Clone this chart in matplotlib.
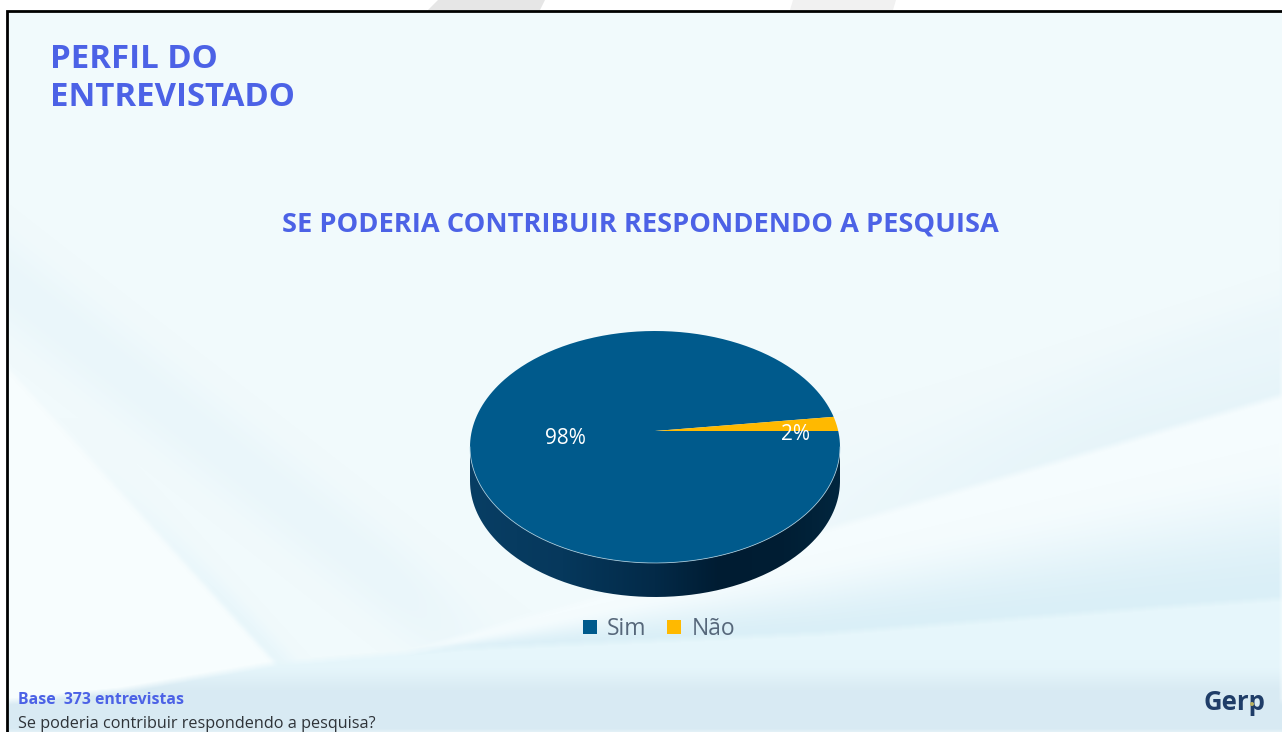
import numpy as np
import matplotlib
matplotlib.use("Agg")
import matplotlib.pyplot as plt
from matplotlib.patches import Rectangle, Polygon, Circle
from matplotlib.path import Path

# ---- data ----
categories = ["Sim", "Não"]
values = [98, 2]
colors = ["#005A8C", "#FFB900"]
page_title = ["PERFIL DO", "ENTREVISTADO"]
chart_title = "SE PODERIA CONTRIBUIR RESPONDENDO A PESQUISA"
base_text = "Base  373 entrevistas"
question_text = "Se poderia contribuir respondendo a pesquisa?"

W, H = 1282, 732
FONT = "Open Sans"
BLUE = "#4C62E6"

fig = plt.figure(figsize=(W / 100, H / 100), dpi=100, facecolor="white")


# ---- background (decorative slide artwork) ----
def smooth(a, lo, hi):
    t = np.clip((a - lo) / (hi - lo), 0, 1)
    return t * t * (3 - 2 * t)


def paint(img, mask, col):
    img += (np.array(col, float) - img) * mask[..., None]


Y, X = np.mgrid[0:H, 0:W].astype(float)
img = np.ones((H, W, 3)) * np.array([241, 250, 252], float)
edge = np.interp(X, [0, 120, 275, 460, 822, 1155, 1282], [702, 690, 663, 648, 633, 607, 598])
L1 = 530 + (822 - X) * (135 / 460)
Lleft = 368 + (X - 8) * 1.105

soft = 1 - smooth(np.abs(Y - (300 + (X - 30) * 0.78)), 5, 75)
paint(img, soft * 0.40 * (1 - smooth(X, 380, 560)), (224, 241, 248))
nearL = smooth(Y, Lleft - 40, Lleft) * (Y < Lleft)
paint(img, nearL * 0.45 * smooth(Y, 420, 640), (220, 241, 249))
upper = smooth(Y, L1 - 110, L1) * (Y < L1)
paint(img, upper * 0.6 * smooth(X, 600, 1150), (224, 241, 248))
soft2 = 1 - smooth(np.abs(Y - (318 + (1282 - X) * 0.33)), 5, 45)
paint(img, soft2 * 0.2 * smooth(X, 900, 1250), (224, 241, 248))
below = Y >= L1
frac = np.clip((Y - L1) / np.maximum(edge - L1, 1), 0, 1)
wedge = np.zeros_like(img)
wedge[...] = np.array([245, 252, 254], float)
wedge += (np.array([218, 239, 247], float) - wedge) * (smooth(frac, 0.25, 1.0)[..., None])
img = np.where((below & (X > 330))[..., None], wedge, img)
img = np.where(((Y >= Lleft) & (Y < edge))[..., None], np.array([247, 253, 254], float), img)
bottom = np.zeros_like(img)
bottom[...] = np.array([230, 246, 251], float)
bottom += (np.array([216, 234, 243], float) - bottom) * smooth(Y, 662, 695)[..., None]
img = np.where((Y >= edge)[..., None], bottom, img)
k = 3
for axis in (0, 1):
    img = sum(np.roll(img, s, axis=axis) for s in range(-k, k + 1)) / (2 * k + 1)

bg = fig.add_axes([0, 0, 1, 1])
bg.imshow(img / 255, extent=(0, W, H, 0), aspect="auto", interpolation="bilinear", zorder=0)
bg.set_xlim(0, W)
bg.set_ylim(H, 0)
bg.axis("off")
bg.add_patch(Rectangle((0, 0), W, 10, fc="white", ec="none", zorder=1))
bg.add_patch(Rectangle((0, 0), 7, H, fc="white", ec="none", zorder=1))
bg.add_patch(Polygon([(428, 10), (438, 0), (545, 0), (540, 10)], fc="#E6E6E6", ec="none", zorder=2))
bg.add_patch(Polygon([(790, 10), (793, 0), (896, 0), (893, 10)], fc="#F1F1F1", ec="none", zorder=2))
bg.plot([7, 7, W], [H, 10.5, 10.5], color="black", lw=2, zorder=3, solid_joinstyle="miter")

bold = dict(color=BLUE, fontweight="bold", family=FONT, zorder=5)
bg.text(50, 60, page_title[0], fontsize=23.7, va="center", **bold)
bg.text(50, 98, page_title[1], fontsize=23.7, va="center", **bold)
bg.text(640, 224, chart_title, fontsize=19.6, ha="center", va="center", **bold)
bg.text(18, 700, base_text, fontsize=11.4, va="center", **bold)
bg.text(18, 724, question_text, color="#2E3338", fontsize=11.7, family=FONT, va="center", zorder=5)
bg.text(1234, 702, "Gerp", color="#1F3D68", fontsize=18.5, fontweight="bold", family=FONT, ha="center", va="center", zorder=5)
bg.add_patch(Circle((1252, 704), 2, fc="#B8B060", ec="none", zorder=6))

# ---- pie ----
TIPX, TIPY = 655, 431
CY, RX, RY, DEPTH = 447, 185, 116, 34
ax = fig.add_axes([0, 0, 1, 1], facecolor="none")
cy0 = (TIPY - CY) / RY
dz = DEPTH / RY

grad_x = np.array([-1, -0.5, 0.0, 0.35, 0.7, 1.0])
grad_c = np.array([[8, 62, 100], [6, 56, 92], [3, 42, 72], [0, 28, 50], [0, 30, 52], [2, 38, 62]], float) / 255
xs = np.linspace(-1, 1, 300)
grad = np.stack([np.interp(xs, grad_x, grad_c[:, i]) for i in range(3)], axis=-1)[None, ...]
im = ax.imshow(grad, extent=(-1, 1, cy0 - dz - 1.1, cy0 + 1.1), aspect="auto", zorder=1)

wedges, _, autotexts = ax.pie(
    values, colors=colors, startangle=360 * values[1] / sum(values), radius=1.4, center=(0, 0),
    autopct="%d%%", pctdistance=90 / RX / 1.4,
    textprops=dict(color="white", fontsize=15, family=FONT),
    wedgeprops=dict(linewidth=0, zorder=2),
)
ax.set_aspect("auto")
ax.set_xlim(-TIPX / RX, (W - TIPX) / RX)
ax.set_ylim(-(H - TIPY) / RY, TIPY / RY)
ax.axis("off")

# clip the wedges to the top ellipse, the gradient to the side wall
theta = np.linspace(0, 2 * np.pi, 400)
top_xy = np.c_[np.cos(theta), cy0 + np.sin(theta)]
for w in wedges:
    w.set_clip_on(True)
    w.set_clip_path(Path(top_xy), ax.transData)
t = np.linspace(np.pi, 2 * np.pi, 200)
side_xy = np.r_[np.c_[np.cos(t), cy0 - dz + np.sin(t)], np.c_[np.cos(t[::-1]), cy0 + np.sin(t[::-1])]]
im.set_clip_path(Path(np.r_[side_xy, side_xy[:1]]), ax.transData)

autotexts[0].set_position((-90 / RX, -7 / RY))
autotexts[1].set_position((141 / RX, -3 / RY))
for a in autotexts:
    a.set_zorder(6)
ax.plot(np.cos(t), cy0 + np.sin(t), color="#B9D6E4", lw=0.6, alpha=0.8, zorder=3)

ax.legend(
    wedges, categories, ncol=2, frameon=False, loc="center",
    bbox_to_anchor=(659 / W, 1 - 629 / H), bbox_transform=fig.transFigure,
    prop=dict(family=FONT, size=16.5), labelcolor="#56677A",
    handlelength=0.6, handleheight=0.6, handletextpad=0.45, columnspacing=0.9,
)

fig.savefig("out.png", dpi=100, facecolor="white")
